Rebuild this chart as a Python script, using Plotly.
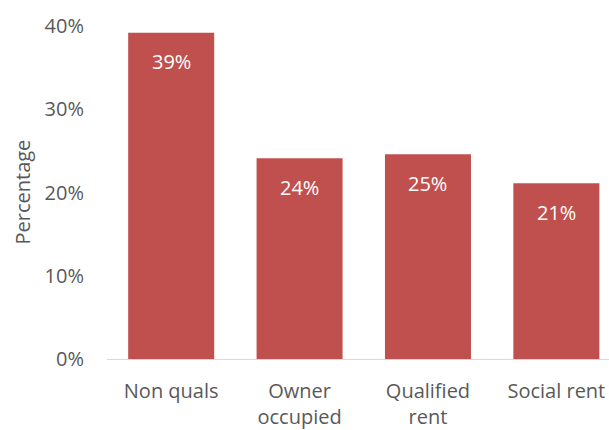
import plotly.graph_objects as go

categories = ["Non quals", "Owner<br>occupied", "Qualified<br>rent", "Social rent"]
values = [39.2, 24.1, 24.6, 21.1]
y_ticks = [0, 10, 20, 30, 40]
y_tick_labels = ["0%", "10%", "20%", "30%", "40%"]

BAR_RED = "#C0504D"
TEXT_GREY = "#595959"
FONT = "Open Sans"
SIZE = 20

fig = go.Figure(
    go.Bar(
        x=list(range(len(categories))),
        y=values,
        marker=dict(color=BAR_RED, line=dict(width=0)),
        hoverinfo="skip",
    )
)

# value labels in white, just below each bar top
for i, v in enumerate(values):
    fig.add_annotation(
        x=i, y=v, xref="x", yref="y",
        text=f"{round(v):d}%",
        showarrow=False, yshift=-29,
        font=dict(family=FONT, size=SIZE, color="white"),
    )

# rotated y-axis title
fig.add_annotation(
    x=0, y=0.5, xref="paper", yref="paper",
    xanchor="center", yanchor="middle",
    text="Percentage", textangle=-90, showarrow=False,
    xshift=-85, font=dict(family=FONT, size=SIZE, color=TEXT_GREY),
)

fig.update_layout(
    width=609, height=430,
    margin=dict(l=107, r=0, t=26, b=71, pad=0),
    paper_bgcolor="white", plot_bgcolor="white",
    bargap=0.33, showlegend=False,
    font=dict(family=FONT, size=SIZE, color=TEXT_GREY),
)
fig.update_xaxes(
    range=[-0.5, 3.41],
    tickmode="array", tickvals=list(range(len(categories))), ticktext=categories,
    showgrid=False, zeroline=False,
    showline=True, linecolor="#D9D9D9", linewidth=1,
    ticks="", ticklabelstandoff=14,
)
fig.update_yaxes(
    range=[0, 40],
    tickmode="array", tickvals=y_ticks, ticktext=y_tick_labels,
    showgrid=False, zeroline=False, showline=False,
    ticks="", ticklabelstandoff=22,
)

fig.write_html("out.html")
